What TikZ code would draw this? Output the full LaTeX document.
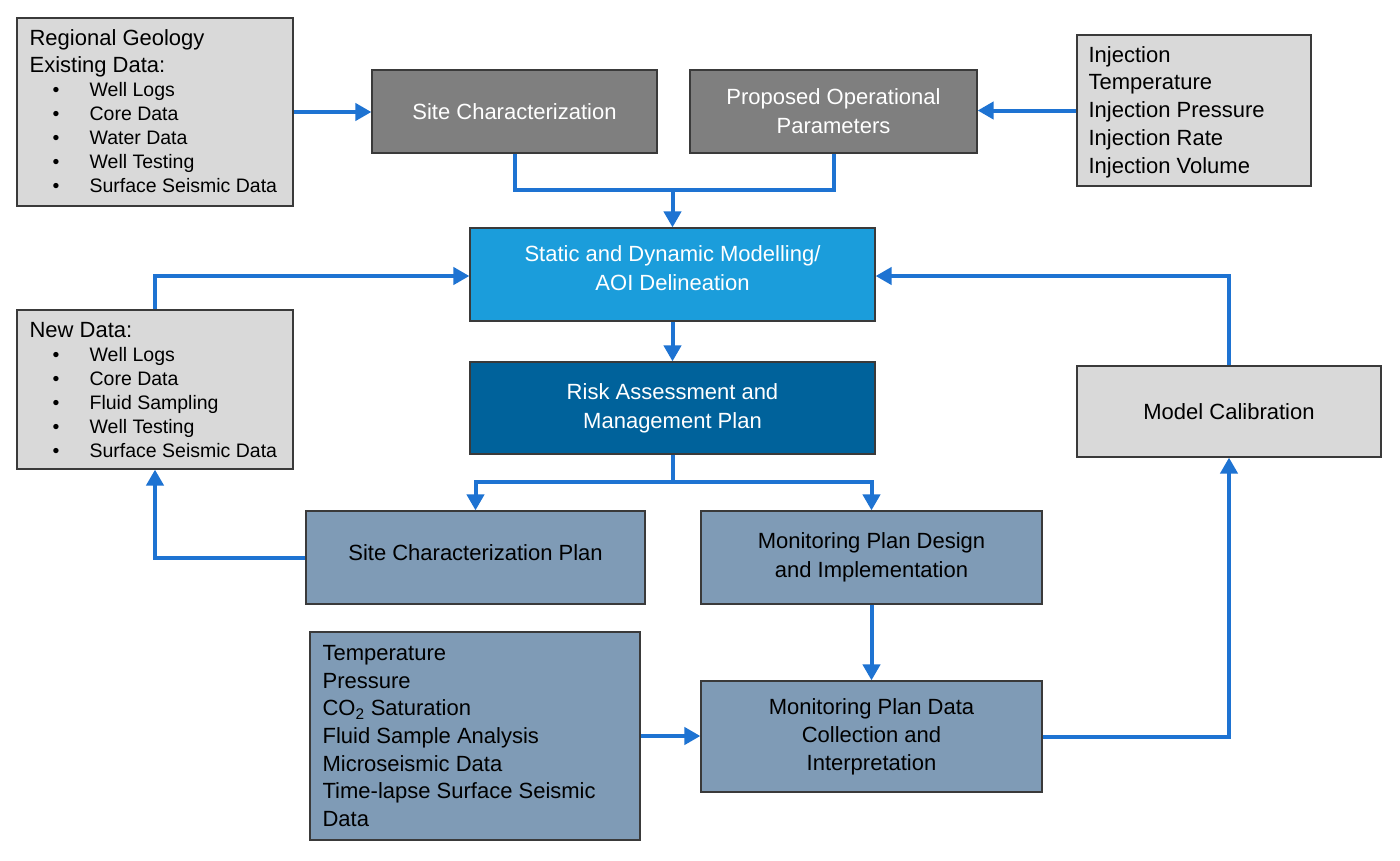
\documentclass[tikz,border=0pt]{standalone}
\usepackage{fontspec}
\setmainfont{Liberation Sans}
\usetikzlibrary{arrows.meta}
\definecolor{dgray}{HTML}{7F7F7F}
\definecolor{lgray}{HTML}{D9D9D9}
\definecolor{lblue}{HTML}{1B9DDB}
\definecolor{dblue}{HTML}{00629B}
\definecolor{steel}{HTML}{7F9BB6}
\definecolor{arrowblue}{HTML}{1E73D2}
\definecolor{edge}{HTML}{3A3A3A}
\newcommand{\bul}{\makebox[60pt][l]{\hspace{23pt}\textbullet}}
\newcommand{\hd}{\fontsize{22}{28}\selectfont}
\begin{document}
\begin{tikzpicture}[x=1pt,y=-1pt,
  box/.style={draw=edge, line width=1.2pt, inner sep=0pt, align=center,
    font=\fontsize{22}{29}\selectfont},
  graybox/.style={box, fill=dgray, text=white},
  lightbox/.style={box, fill=lgray, text=black},
  lbluebox/.style={box, fill=lblue, text=white},
  dbluebox/.style={box, fill=dblue, text=white},
  steelbox/.style={box, fill=steel, text=black},
  listtext/.style={inner sep=0pt, align=left, anchor=west},
  bullist/.style={listtext, font=\fontsize{19.5}{24}\selectfont},
  biglist/.style={listtext, font=\fontsize{22}{27.7}\selectfont},
  wire/.style={draw=arrowblue, line width=4pt, line join=miter},
  conn/.style={wire, -{Triangle[length=16pt,width=17pt]}}
]
\useasboundingbox (0,0) rectangle (1400,860);
\fill[white] (0,0) rectangle (1400,860);

% boxes
\node[lightbox, minimum width=276, minimum height=188] (reg) at (155,112) {};
\node[bullist] (regt) at ([xshift=13pt,yshift=1pt]reg.west) {%
  \hd Regional Geology\\[3pt]
  \hd Existing Data:\\[0pt]
  \bul Well Logs\\
  \bul Core Data\\
  \bul Water Data\\
  \bul Well Testing\\
  \bul Surface Seismic Data};

\node[graybox, minimum width=285, minimum height=83] (sc) at (514.5,111.5) {Site Characterization};
\node[graybox, minimum width=287, minimum height=83] (pop) at (833.5,111.5) {Proposed Operational\\Parameters};

\node[lightbox, minimum width=234, minimum height=151] (inj) at (1194,110.5) {};
\node[biglist] (injt) at ([xshift=12pt,yshift=-1.5pt]inj.west) {%
  Injection\\
  Temperature\\
  Injection Pressure\\
  Injection Rate\\
  Injection Volume};

\node[lbluebox, minimum width=405, minimum height=93] (sdm) at (672.5,274.5) {Static and Dynamic Modelling/\\AOI Delineation\\[-25pt]\strut};
\node[dbluebox, minimum width=405, minimum height=92] (risk) at (672.5,408) {Risk Assessment and\\Management Plan};

\node[lightbox, minimum width=276, minimum height=159] (nd) at (155,389.5) {};
\node[bullist] (ndt) at ([xshift=13pt,yshift=-1pt]nd.west) {%
  \hd New Data:\\[0pt]
  \bul Well Logs\\
  \bul Core Data\\
  \bul Fluid Sampling\\
  \bul Well Testing\\
  \bul Surface Seismic Data};

\node[lightbox, minimum width=304, minimum height=91] (mc) at (1229,411.5) {Model Calibration};

\node[steelbox, minimum width=339, minimum height=93] (scp) at (475.5,557.5) {Site Characterization Plan\\[-28pt]\strut};
\node[steelbox, minimum width=341, minimum height=93] (mpd) at (871.5,557.5) {Monitoring Plan Design\\and Implementation};

\node[steelbox, minimum width=330, minimum height=208] (tl) at (475,736) {};
\node[biglist] (tlt) at ([xshift=13pt]tl.west) {%
  Temperature\\
  Pressure\\
  CO\textsubscript{2} Saturation\\
  Fluid Sample Analysis\\
  Microseismic Data\\
  Time-lapse Surface Seismic\\
  Data};

\node[steelbox, minimum width=341, minimum height=111, font=\fontsize{22}{28}\selectfont] (mdc) at (871.5,736.5) {Monitoring Plan Data\\Collection and\\Interpretation};

% junction points
\coordinate (j1) at (672.5,190);
\coordinate (j2) at (672.5,482);

% connectors
\draw[conn] (reg.east) -- (reg.east -| sc.west);
\draw[conn] (inj.west) -- (inj.west -| pop.east);
\draw[wire] (sc.south) -- (sc.south |- j1) -- (pop.south |- j1) -- (pop.south);
\draw[conn] (j1) -- (sdm.north);
\draw[conn] (sdm.south) -- (risk.north);
\draw[conn] (nd.north) |- ([yshift=-1.5pt]sdm.west);
\draw[conn] (mc.north) |- ([yshift=-1.5pt]sdm.east);
\draw[wire] (risk.south) -- (j2);
\draw[conn] (j2) -| (scp.north);
\draw[conn] (j2) -| (mpd.north);
\draw[conn] (scp.west) -| (nd.south);
\draw[conn] (mpd.south) -- (mdc.north);
\draw[conn] (tl.east) -- (tl.east -| mdc.west);
\draw[conn] (mdc.east) -| (mc.south);
\end{tikzpicture}
\end{document}
